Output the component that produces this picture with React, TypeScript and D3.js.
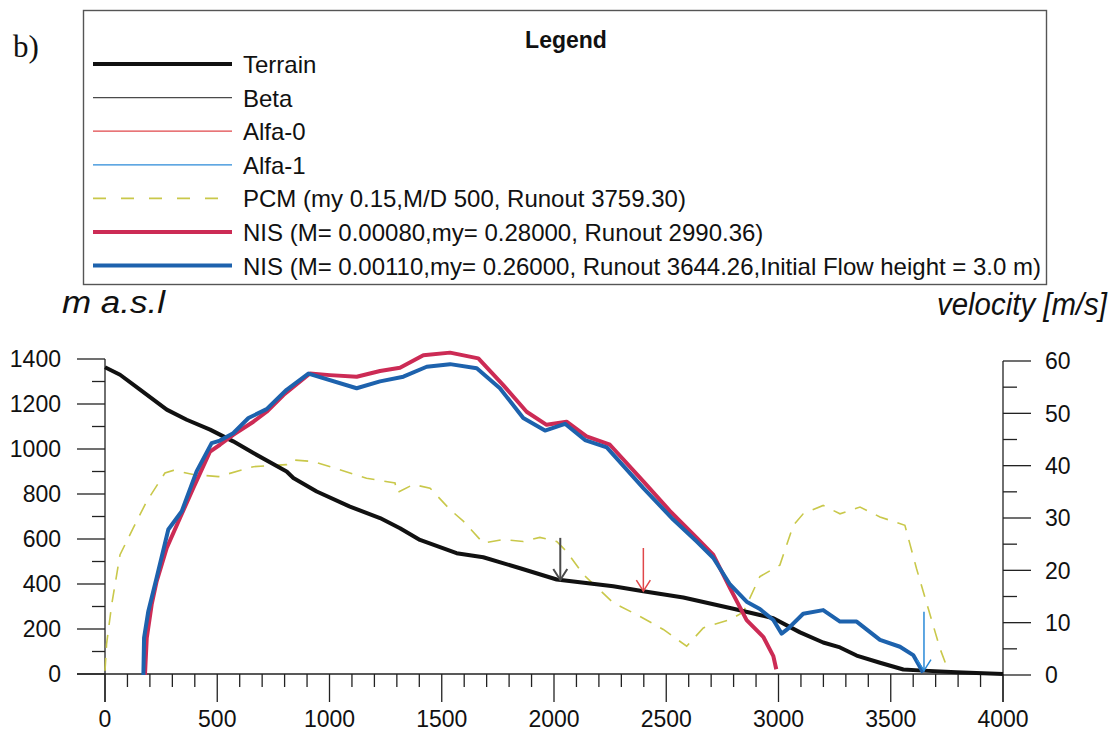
import React from "react";
import * as d3 from "d3";

// ---------- data ----------
const xTicks = [0, 500, 1000, 1500, 2000, 2500, 3000, 3500, 4000];
const elevTicks = [0, 200, 400, 600, 800, 1000, 1200, 1400];
const velTicks = [0, 10, 20, 30, 40, 50, 60];

const terrainX = [0, 67, 156, 275, 364, 468, 571, 661, 809, 839, 943, 1091, 1225, 1314, 1403, 1566, 1685, 1849, 2012, 2264, 2398, 2576, 2799, 2917, 2977, 3096, 3199, 3274, 3348, 3452, 3556, 3645, 3793, 4000];
const terrainElev = [1363, 1330, 1264, 1175, 1130, 1086, 1034, 982, 900, 871, 811, 744, 693, 648, 596, 537, 519, 470, 420, 390, 368, 340, 290, 262, 248, 185, 140, 118, 82, 50, 20, 15, 8, 0];

const nisRedX = [178, 186, 208, 230, 275, 334, 393, 468, 512, 571, 661, 720, 795, 913, 1002, 1121, 1225, 1314, 1418, 1537, 1663, 1774, 1878, 1967, 2056, 2145, 2249, 2398, 2517, 2636, 2709, 2784, 2858, 2932, 2977, 2990];
const nisRedV = [0, 7.1, 13.5, 17.9, 24.3, 30.0, 35.7, 42.7, 44.0, 45.9, 48.4, 50.3, 53.5, 57.6, 57.3, 57.0, 58.1, 58.7, 61.1, 61.6, 60.5, 55.4, 50.3, 47.8, 48.4, 45.6, 44.0, 37.0, 31.3, 26.2, 23.0, 16.6, 10.5, 7.3, 3.6, 1.1];

const nisBlueX = [171, 174, 193, 230, 282, 342, 408, 475, 512, 571, 639, 720, 809, 906, 1121, 1225, 1329, 1433, 1537, 1656, 1759, 1863, 1960, 2049, 2138, 2235, 2398, 2531, 2636, 2709, 2784, 2858, 2917, 2977, 3014, 3044, 3110, 3199, 3274, 3348, 3452, 3541, 3600, 3644];
const nisBlueV = [0, 7.1, 12.2, 18.6, 27.8, 31.3, 38.9, 44.3, 44.8, 46.2, 49.1, 50.8, 54.5, 57.6, 54.8, 56.1, 57.0, 58.9, 59.4, 58.6, 54.8, 49.1, 46.7, 48.0, 44.9, 43.5, 35.7, 29.7, 25.5, 22.4, 17.3, 14.0, 12.6, 10.5, 7.9, 8.9, 11.7, 12.4, 10.2, 10.2, 6.7, 5.4, 3.8, 0.5];

const pcmX = [0, 7, 30, 67, 126, 186, 267, 304, 393, 505, 661, 809, 832, 928, 1165, 1292, 1299, 1373, 1448, 1537, 1596, 1685, 1774, 1863, 1937, 2012, 2056, 2131, 2264, 2383, 2487, 2591, 2665, 2784, 2843, 2917, 3006, 3066, 3110, 3199, 3274, 3363, 3452, 3563, 3615, 3667, 3719, 3759];
const pcmV = [0.8, 5.9, 13.5, 23.0, 28.1, 33.2, 38.6, 39.1, 38.3, 37.9, 39.8, 40.2, 41.1, 40.8, 37.6, 36.7, 34.8, 36.4, 35.7, 31.6, 29.4, 25.2, 25.9, 25.5, 26.3, 25.5, 23.6, 19.2, 13.8, 11.2, 8.7, 5.5, 9.0, 10.6, 12.0, 18.8, 21.0, 28.6, 30.8, 32.4, 30.8, 32.1, 30.2, 28.6, 20.3, 12.7, 5.1, 0.5];

// runout markers: Beta, Alfa-0, Alfa-1 (x position, top elevation of arrow)
const markerNames = ["Beta", "Alfa-0", "Alfa-1"];
const markerX = [2028, 2398, 3648];
const markerTopElev = [605, 560, 277];

const legendLabels = [
  "Terrain",
  "Beta",
  "Alfa-0",
  "Alfa-1",
  "PCM (my 0.15,M/D 500, Runout 3759.30)",
  "NIS (M= 0.00080,my= 0.28000, Runout 2990.36)",
  "NIS (M= 0.00110,my= 0.26000, Runout 3644.26,Initial Flow height = 3.0 m)",
];

// ---------- styles ----------
const C_TERRAIN = "#111111";
const C_BETA = "#4a4a4a";
const C_ALFA0 = "#e0474a";
const C_ALFA1 = "#2a8ad8";
const C_PCM = "#c9c84a";
const C_RED = "#cc2b55";
const C_BLUE = "#1d62ad";
const FONT = "'Liberation Sans', Arial, sans-serif";

const legendStyles = [
  { stroke: C_TERRAIN, w: 4, dash: "" },
  { stroke: C_BETA, w: 1.2, dash: "" },
  { stroke: C_ALFA0, w: 1.2, dash: "" },
  { stroke: C_ALFA1, w: 1.2, dash: "" },
  { stroke: C_PCM, w: 1.6, dash: "13,15" },
  { stroke: C_RED, w: 4, dash: "" },
  { stroke: C_BLUE, w: 4, dash: "" },
];
const markerColors = [C_BETA, C_ALFA0, C_ALFA1];
const markerWidths = [2, 1.5, 1.5];

export default function App() {
  const W = 1116, H = 734;
  const x = d3.scaleLinear().domain([0, 4000]).range([105, 1003]);
  const yE = d3.scaleLinear().domain([0, 1400]).range([674, 359]);
  const yV = d3.scaleLinear().domain([0, 60]).range([675, 361]);

  const lineE = d3.line<[number, number]>().x((d) => x(d[0])).y((d) => yE(d[1]));
  const lineV = d3.line<[number, number]>().x((d) => x(d[0])).y((d) => yV(d[1]));

  const zip = (a: number[], b: number[]) => a.map((v, i) => [v, b[i]] as [number, number]);
  const terrainInterp = (xv: number) => {
    const i = d3.bisectRight(terrainX, xv) - 1;
    const j = Math.min(i + 1, terrainX.length - 1);
    const t = j === i ? 0 : (xv - terrainX[i]) / (terrainX[j] - terrainX[i]);
    return terrainElev[i] + t * (terrainElev[j] - terrainElev[i]);
  };

  const xMinor = d3.range(0, 4001, 100).filter((v) => v % 500 !== 0);
  const eMinor = d3.range(100, 1400, 200);
  const vMinor = d3.range(5, 60, 10);

  const axisColor = "#222";
  const legendTop = 64;
  const legendStep = 33.6;

  return (
    <svg width={W} height={H} style={{ position: "absolute", left: 0, top: 0, background: "#fff" }} fontFamily={FONT}>
      <rect x={0} y={0} width={W} height={H} fill="#fff" />
      <text x={13} y={57} fontFamily="'Liberation Serif', 'Times New Roman', serif" fontSize={31} fill="#111">b)</text>

      {/* Legend */}
      <rect x={83.5} y={10.5} width={963} height={274} fill="#fff" stroke="#555" strokeWidth={1.4} />
      <text x={566} y={48} textAnchor="middle" fontWeight="bold" fontSize={23} fill="#111">Legend</text>
      {legendLabels.map((lab, i) => {
        const yy = legendTop + i * legendStep;
        const s = legendStyles[i];
        return (
          <g key={lab}>
            <line x1={93} x2={232} y1={yy} y2={yy} stroke={s.stroke} strokeWidth={s.w} strokeDasharray={s.dash || undefined} />
            <text x={243} y={yy + 9} fontSize={24} fill="#111">{lab}</text>
          </g>
        );
      })}

      {/* Axis titles */}
      <text x={62} y={313} fontSize={31} fontStyle="italic" fill="#111" textLength={103} lengthAdjust="spacingAndGlyphs">m a.s.l</text>
      <text x={937} y={315} fontSize={31} fontStyle="italic" fill="#111" textLength={170} lengthAdjust="spacingAndGlyphs">velocity [m/s]</text>

      {/* Left axis */}
      <line x1={105} x2={105} y1={yE(1400)} y2={702} stroke={axisColor} strokeWidth={1.3} />
      {elevTicks.map((t) => (
        <g key={"e" + t}>
          <line x1={77} x2={105} y1={yE(t)} y2={yE(t)} stroke={axisColor} strokeWidth={1.3} />
          <text x={61} y={yE(t)} dy="0.36em" textAnchor="end" fontSize={23} fill="#111">{t}</text>
        </g>
      ))}
      {eMinor.map((t) => (
        <line key={"em" + t} x1={92} x2={105} y1={yE(t)} y2={yE(t)} stroke={axisColor} strokeWidth={1.3} />
      ))}

      {/* X axis */}
      <line x1={77} x2={1003} y1={674} y2={674} stroke={axisColor} strokeWidth={1.3} />
      {xTicks.map((t) => (
        <g key={"x" + t}>
          <line x1={x(t)} x2={x(t)} y1={674} y2={702} stroke={axisColor} strokeWidth={1.3} />
          <text x={x(t)} y={727} textAnchor="middle" fontSize={23} fill="#111">{t}</text>
        </g>
      ))}
      {xMinor.map((t) => (
        <line key={"xm" + t} x1={x(t)} x2={x(t)} y1={674} y2={687} stroke={axisColor} strokeWidth={1.3} />
      ))}

      {/* Right axis */}
      <line x1={1003} x2={1003} y1={yV(60)} y2={702} stroke={axisColor} strokeWidth={1.3} />
      {velTicks.map((t) => (
        <g key={"v" + t}>
          <line x1={1003} x2={1031} y1={yV(t)} y2={yV(t)} stroke={axisColor} strokeWidth={1.3} />
          <text x={1045} y={yV(t)} dy="0.36em" textAnchor="start" fontSize={23} fill="#111">{t}</text>
        </g>
      ))}
      {vMinor.map((t) => (
        <line key={"vm" + t} x1={1003} x2={1017} y1={yV(t)} y2={yV(t)} stroke={axisColor} strokeWidth={1.3} />
      ))}

      {/* PCM */}
      <path d={lineV(zip(pcmX, pcmV)) || ""} fill="none" stroke={C_PCM} strokeWidth={1.6} strokeDasharray="13,10" />

      {/* Terrain */}
      <path d={lineE(zip(terrainX, terrainElev)) || ""} fill="none" stroke={C_TERRAIN} strokeWidth={4} strokeLinejoin="round" />

      {/* NIS curves */}
      <path d={lineV(zip(nisRedX, nisRedV)) || ""} fill="none" stroke={C_RED} strokeWidth={4} strokeLinejoin="round" />
      <path d={lineV(zip(nisBlueX, nisBlueV)) || ""} fill="none" stroke={C_BLUE} strokeWidth={4} strokeLinejoin="round" />

      {/* Runout arrows */}
      {markerNames.map((n, i) => {
        const px = x(markerX[i]);
        const top = yE(markerTopElev[i]);
        const tip = yE(terrainInterp(markerX[i]));
        return (
          <g key={n} stroke={markerColors[i]} strokeWidth={markerWidths[i]} fill="none">
            <line x1={px} x2={px} y1={top} y2={tip} />
            <polyline points={`${px - 7},${tip - 11} ${px},${tip} ${px + 7},${tip - 11}`} />
          </g>
        );
      })}
    </svg>
  );
}
